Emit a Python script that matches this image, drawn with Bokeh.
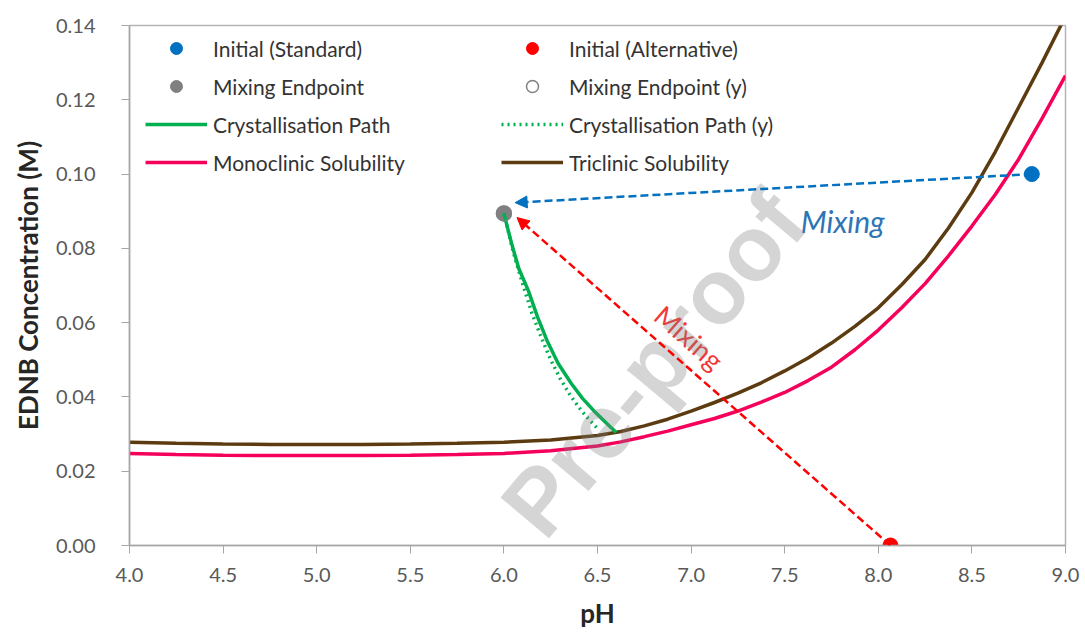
import math
from bokeh.plotting import figure
from bokeh.models import (Range1d, Legend, LegendItem, Arrow, NormalHead,
                          FixedTicker, NumeralTickFormatter)
from bokeh.embed import file_html
from bokeh.resources import INLINE
from bokeh.core.properties import value

# ---------------- data ----------------
ph_grid = [4.0, 4.25, 4.5, 4.75, 5.0, 5.25, 5.5, 5.75, 6.0, 6.25, 6.5, 6.625, 6.75,
           6.875, 7.0, 7.125, 7.25, 7.375, 7.5, 7.625, 7.75, 7.875, 8.0, 8.125,
           8.25, 8.375, 8.5, 8.625, 8.75, 8.875, 9.0]
triclinic = [0.0278, 0.0275, 0.0273, 0.0272, 0.0272, 0.0272, 0.0273, 0.0275, 0.0278,
             0.0284, 0.0296, 0.0307, 0.0322, 0.0340, 0.0362, 0.0385, 0.0410, 0.0438,
             0.0470, 0.0505, 0.0545, 0.0590, 0.0640, 0.0702, 0.0770, 0.0855, 0.0950,
             0.1060, 0.1180, 0.1300, 0.1425]
monoclinic = [0.0248, 0.0245, 0.0243, 0.0242, 0.0242, 0.0242, 0.0243, 0.0245, 0.0248,
              0.0255, 0.0268, 0.0279, 0.0293, 0.0308, 0.0325, 0.0342, 0.0362, 0.0386,
              0.0412, 0.0444, 0.0480, 0.0527, 0.0580, 0.0640, 0.0705, 0.0780, 0.0860,
              0.0945, 0.1040, 0.1150, 0.1265]

path_ph = [6.0, 6.04, 6.08, 6.13, 6.18, 6.23, 6.29, 6.36, 6.42, 6.48, 6.54, 6.6]
path_c = [0.0894, 0.0815, 0.0745, 0.0687, 0.0615, 0.0552, 0.0490, 0.0436, 0.0396,
          0.0363, 0.0333, 0.0304]
path_y_ph = [6.0, 6.05, 6.1, 6.15, 6.2, 6.25, 6.3, 6.35, 6.4, 6.45, 6.5]
path_y_c = [0.0894, 0.0790, 0.0705, 0.0625, 0.0560, 0.0500, 0.0450, 0.0408, 0.0372,
            0.0342, 0.0315]

standard_ph, standard_c = [8.82], [0.100]
alternative_ph, alternative_c = [8.065], [0.0]
endpoint_ph, endpoint_c = [6.0], [0.0894]
endpoint_y_ph, endpoint_y_c = [6.0], [0.0894]

blue_arrow_tip = (6.06, 0.0923)
red_arrow_tip = (6.07, 0.0883)

blue_label_pos = (7.81, 0.0875)
red_label_pos = (6.99, 0.0560)
watermark_pos = (6.089, 0.0062)

x_ticks = [4.0, 4.5, 5.0, 5.5, 6.0, 6.5, 7.0, 7.5, 8.0, 8.5, 9.0]
y_ticks = [0.0, 0.02, 0.04, 0.06, 0.08, 0.10, 0.12, 0.14]

# ---------------- styles ----------------
BLUE = "#0070C0"
RED = "#FF0000"
GRAY = "#808080"
GREEN = "#00B050"
PINK = "#F5005A"
BROWN = "#5C3B10"
FONT = "Lato"

p = figure(width=1085, height=641, output_backend="svg", toolbar_location=None,
           x_range=Range1d(4.0, 9.0), y_range=Range1d(0.0, 0.14),
           min_border_left=129, min_border_right=20, min_border_top=25, min_border_bottom=96)
p.grid.visible = False
p.outline_line_color = "#b5b5b5"
p.outline_line_width = 1.5
p.background_fill_color = "white"
p.border_fill_color = "white"

for ax in (p.xaxis[0], p.yaxis[0]):
    ax.axis_line_color = "#a6a6a6"
    ax.axis_line_width = 1.5
    ax.major_tick_line_color = "#a6a6a6"
    ax.major_tick_in = 0
    ax.major_tick_out = 8
    ax.minor_tick_line_color = None
    ax.major_label_text_font = FONT
    ax.major_label_text_font_size = "20px"
    ax.major_label_text_color = "#595959"
    ax.axis_label_text_font = FONT
    ax.axis_label_text_font_size = "26px"
    ax.axis_label_text_font_style = "bold"
    ax.axis_label_text_color = "#262626"

p.xaxis.ticker = FixedTicker(ticks=x_ticks)
p.yaxis.ticker = FixedTicker(ticks=y_ticks)
p.xaxis.formatter = NumeralTickFormatter(format="0.0")
p.yaxis.formatter = NumeralTickFormatter(format="0.00")
p.xaxis.axis_label = "pH"
p.yaxis.axis_label = "EDNB Concentration (M)"
p.xaxis.major_label_standoff = 14
p.yaxis.major_label_standoff = 26
p.xaxis.axis_label_standoff = 12
p.yaxis.axis_label_standoff = 9

# ---------------- glyphs ----------------
r_mono = p.line(ph_grid, monoclinic, line_color=PINK, line_width=3.5)
r_tri = p.line(ph_grid, triclinic, line_color=BROWN, line_width=3.5)

r_end = p.scatter(endpoint_ph, endpoint_c, size=15, fill_color=GRAY, line_color=GRAY)
r_path_y = p.line(path_y_ph, path_y_c, line_color=GREEN, line_width=3.5, line_dash="2 4")
r_path = p.line(path_ph, path_c, line_color=GREEN, line_width=3.5)
r_end_y = p.scatter(endpoint_y_ph, endpoint_y_c, size=15, fill_color=None,
                    line_color=GRAY, line_width=1.5)

p.add_layout(Arrow(end=NormalHead(size=12, fill_color=BLUE, line_color=BLUE),
                   x_start=standard_ph[0], y_start=standard_c[0],
                   x_end=blue_arrow_tip[0], y_end=blue_arrow_tip[1],
                   line_color=BLUE, line_width=2.5, line_dash="8 4"))
p.add_layout(Arrow(end=NormalHead(size=12, fill_color=RED, line_color=RED),
                   x_start=alternative_ph[0], y_start=alternative_c[0],
                   x_end=red_arrow_tip[0], y_end=red_arrow_tip[1],
                   line_color=RED, line_width=2.5, line_dash="8 4"))

r_std = p.scatter(standard_ph, standard_c, size=15, fill_color=BLUE, line_color=BLUE)
r_alt = p.scatter(alternative_ph, alternative_c, size=15, fill_color=RED, line_color=RED)

p.text(x=[blue_label_pos[0]], y=[blue_label_pos[1]], text=["Mixing"],
       text_font=value(FONT), text_font_style="italic", text_font_size="30px",
       text_color="#2E75B6", text_align="center", text_baseline="alphabetic")
p.text(x=[red_label_pos[0]], y=[red_label_pos[1]], text=["Mixing"],
       text_font=value(FONT), text_font_size="27px", text_color="#F03A3A",
       text_align="center", text_baseline="middle", angle=-math.radians(41.3))

# ---------------- watermark (kept fully inside the plot area) ----------------
p.text(x=[watermark_pos[0]], y=[watermark_pos[1]], text=["Pre-proof"],
       angle=math.radians(50), text_font=value("Liberation Sans"),
       text_font_size="92px", text_font_style="bold",
       text_color="#7f7f7f", text_alpha=0.33,
       text_align="left", text_baseline="alphabetic")

# ---------------- legends ----------------
def make_legend(items, x, y):
    leg = Legend(items=items, location=(x, y), orientation="vertical",
                 glyph_width=62, glyph_height=30, label_height=30, label_standoff=6,
                 spacing=8, padding=0, margin=0,
                 border_line_alpha=0, background_fill_alpha=0,
                 label_text_font=FONT, label_text_font_size="21px",
                 label_text_color="#333333")
    return leg

leg1 = make_legend([
    LegendItem(label="Initial (Standard)", renderers=[r_std]),
    LegendItem(label="Mixing Endpoint", renderers=[r_end]),
    LegendItem(label="Crystallisation Path", renderers=[r_path]),
    LegendItem(label="Monoclinic Solubility", renderers=[r_mono]),
], 16, 368)
leg2 = make_legend([
    LegendItem(label="Initial (Alternative)", renderers=[r_alt]),
    LegendItem(label="Mixing Endpoint (y)", renderers=[r_end_y]),
    LegendItem(label="Crystallisation Path (y)", renderers=[r_path_y]),
    LegendItem(label="Triclinic Solubility", renderers=[r_tri]),
], 372, 368)
p.add_layout(leg1)
p.add_layout(leg2)

open("out.html", "w").write(file_html(p, INLINE))
